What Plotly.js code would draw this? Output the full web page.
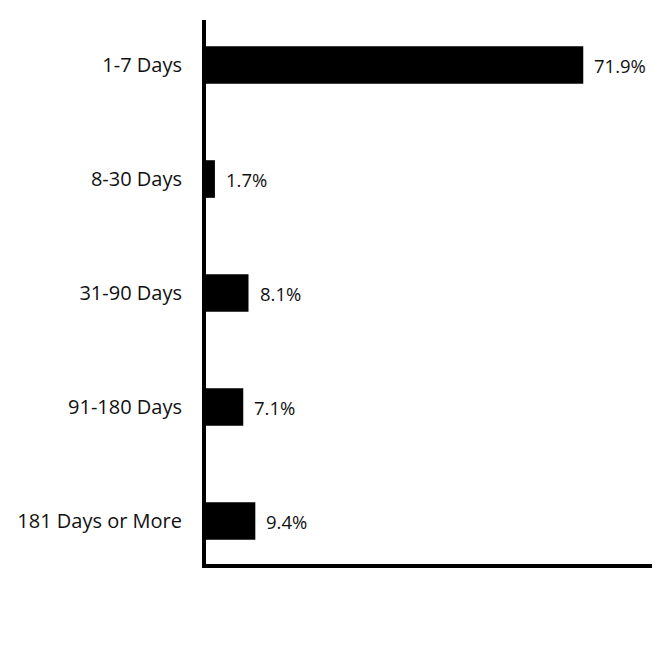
<!DOCTYPE html>
<html>
<head>
<meta charset="utf-8">
<script src="https://cdn.plot.ly/plotly-3.0.1.min.js"></script>
<style>
  html, body { margin: 0; padding: 0; background: #fff; }
  #chart { width: 672px; height: 648px; }
</style>
</head>
<body>
<div id="chart"></div>
<script>
  const categories = ['1-7 Days', '8-30 Days', '31-90 Days', '91-180 Days', '181 Days or More'];
  const shares = [71.9, 1.7, 8.1, 7.1, 9.4];
  const shareLabels = ['71.9%', '1.7%', '8.1%', '7.1%', '9.4%'];

  const bars = {
    type: 'bar',
    orientation: 'h',
    x: shares,
    y: categories,
    width: 0.33,
    marker: { color: '#000' },
    hoverinfo: 'none'
  };

  // value labels next to each bar
  const notes = shares.map(function (v, i) {
    return {
      x: v,
      y: categories[i],
      text: shareLabels[i],
      showarrow: false,
      xanchor: 'left',
      xshift: 9,
      font: { family: '"Open Sans", sans-serif', size: 18.5, color: '#111' }
    };
  });

  const layout = {
    width: 672,
    height: 648,
    margin: { l: 206, r: 20, t: 20, b: 84 },
    paper_bgcolor: '#fff',
    plot_bgcolor: '#fff',
    showlegend: false,
    font: { family: '"Open Sans", sans-serif', color: '#111' },
    xaxis: {
      range: [0, 85],
      showline: true,
      linewidth: 4,
      linecolor: '#000',
      showgrid: false,
      zeroline: false,
      showticklabels: false,
      ticks: ''
    },
    yaxis: {
      range: [4.377, -0.395],
      showline: true,
      linewidth: 4,
      linecolor: '#000',
      showgrid: false,
      zeroline: false,
      ticks: 'outside',
      ticklen: 16,
      tickcolor: 'rgba(0,0,0,0)',
      tickfont: { family: '"Open Sans", sans-serif', size: 20, color: '#111' }
    },
    annotations: notes
  };

  Plotly.newPlot('chart', [bars], layout, { displayModeBar: false, staticPlot: true });
</script>
</body>
</html>
